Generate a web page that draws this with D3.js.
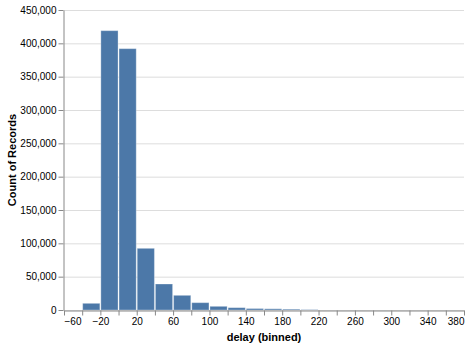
<!DOCTYPE html>
<html>
<head>
<meta charset="utf-8">
<script src="https://cdn.jsdelivr.net/npm/d3@7"></script>
<style>
  body { margin: 0; background: #fff; }
  text { font-family: "Liberation Sans", Arial, Helvetica, sans-serif; }
</style>
</head>
<body>
<div id="chart"></div>
<script>
// bins de 20 en 20
var binStart = [-40, -20, 0, 20, 40, 60, 80, 100, 120, 140, 160, 180, 200];
var counts = [10000, 419000, 392000, 92500, 39000, 22000, 11000, 5500, 3500, 2200, 1800, 1200, 500];
var binStep = 20;
var xTicks = d3.range(-60, 381, 20);
var xLabels = [-60, -20, 20, 60, 100, 140, 180, 220, 260, 300, 340, 380];
var yTicks = [0, 50000, 100000, 150000, 200000, 250000, 300000, 350000, 400000, 450000];

var margin = {left: 64, top: 10};
var w = 400, h = 300;

var svg = d3.select("#chart").append("svg")
    .attr("width", 470)
    .attr("height", 347);

var g = svg.append("g")
    .attr("transform", "translate(" + margin.left + "," + margin.top + ")");

var x = d3.scaleLinear().domain([-60, 380]).range([0, w]);
var y = d3.scaleLinear().domain([0, 450000]).range([h, 0]);

// grid
g.selectAll(".grid").data(yTicks).enter().append("line")
    .attr("x1", 0).attr("x2", w)
    .attr("y1", d => y(d) + 0.5).attr("y2", d => y(d) + 0.5)
    .attr("stroke", "#ddd");

// barras
g.selectAll(".bar").data(binStart).enter().append("rect")
    .attr("x", d => x(d) + 0.5)
    .attr("y", (d, i) => y(counts[i]))
    .attr("width", d => x(d + binStep) - x(d) - 1)
    .attr("height", (d, i) => h - y(counts[i]))
    .attr("fill", "#4c78a8")
    .attr("stroke", "rgba(255,255,255,0.3)")
    .attr("stroke-width", 1);

// eje x
var xAxis = d3.axisBottom(x).tickValues(xTicks).tickSize(5).tickSizeOuter(0)
    .tickFormat(d => xLabels.indexOf(d) >= 0 ? d3.format("")(d).replace("-", "\u2212") : "");
var gx = g.append("g").attr("transform", "translate(0," + (h + 0.5) + ")").call(xAxis);
gx.select(".domain").attr("stroke", "#888");
gx.selectAll(".tick line").attr("stroke", "#888");
gx.selectAll(".tick text").attr("font-size", 10).attr("fill", "#000").attr("dy", "0.75em").attr("y", 7)
    .attr("text-anchor", d => d === -60 ? "start" : (d === 380 ? "end" : "middle"));

// eje y
var yAxis = d3.axisLeft(y).tickValues(yTicks).tickSize(5).tickSizeOuter(0).tickFormat(d3.format(","));
var gy = g.append("g").attr("transform", "translate(-0.5,0)").call(yAxis);
gy.select(".domain").attr("stroke", "#888");
gy.selectAll(".tick line").attr("stroke", "#888");
gy.selectAll(".tick text").attr("font-size", 10).attr("fill", "#000").attr("x", -7);

// títulos
svg.append("text")
    .attr("x", margin.left + w / 2)
    .attr("y", 341)
    .attr("text-anchor", "middle")
    .attr("font-size", 11)
    .attr("font-weight", "bold")
    .text("delay (binned)");

svg.append("text")
    .attr("transform", "translate(16," + (margin.top + h / 2) + ") rotate(-90)")
    .attr("text-anchor", "middle")
    .attr("font-size", 11)
    .attr("font-weight", "bold")
    .text("Count of Records");
</script>
</body>
</html>
